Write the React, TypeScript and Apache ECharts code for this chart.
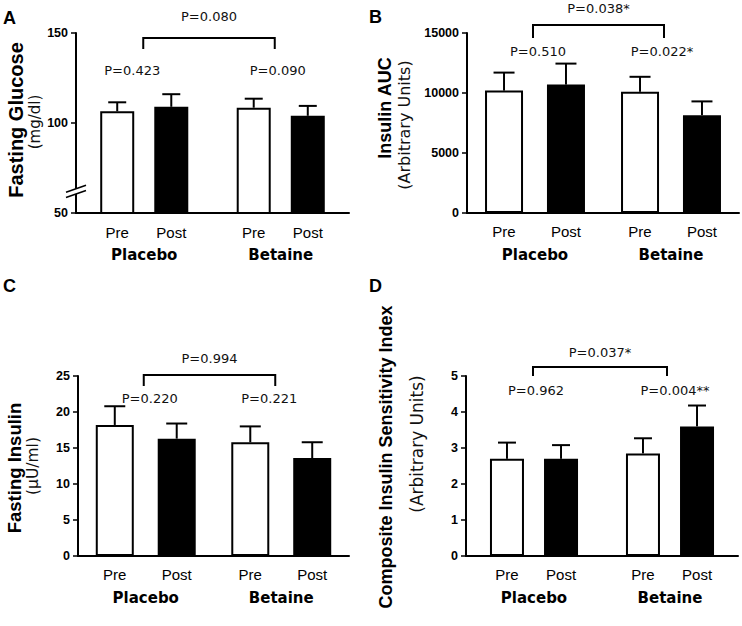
import React, { useEffect, useRef } from 'react';
import * as echarts from 'echarts';

// ---------- data ----------
const groups = ['Placebo', 'Betaine'];
const phases = ['Pre', 'Post'];

// A: Fasting glucose (mg/dl)
const glucosePre = [106.5, 108.5];
const glucosePreErr = [111.5, 113.5];
const glucosePost = [109, 104];
const glucosePostErr = [116, 109.5];
const glucoseGroupP = ['P=0.423', 'P=0.090'];
const glucoseBetweenP = 'P=0.080';
const glucoseTicks = [50, 100, 150];

// B: Insulin AUC (arbitrary units)
const aucPre = [10200, 10100];
const aucPreErr = [11700, 11350];
const aucPost = [10700, 8150];
const aucPostErr = [12450, 9300];
const aucGroupP = ['P=0.510', 'P=0.022*'];
const aucBetweenP = 'P=0.038*';
const aucTicks = [0, 5000, 10000, 15000];

// C: Fasting insulin (µU/ml)
const insulinPre = [18.2, 15.8];
const insulinPreErr = [20.8, 18.0];
const insulinPost = [16.3, 13.6];
const insulinPostErr = [18.4, 15.8];
const insulinGroupP = ['P=0.220', 'P=0.221'];
const insulinBetweenP = 'P=0.994';
const insulinTicks = [0, 5, 10, 15, 20, 25];

// D: Composite insulin sensitivity index
const csiPre = [2.7, 2.85];
const csiPreErr = [3.15, 3.27];
const csiPost = [2.7, 3.6];
const csiPostErr = [3.08, 4.18];
const csiGroupP = ['P=0.962', 'P=0.004**'];
const csiBetweenP = 'P=0.037*';
const csiTicks = [0, 1, 2, 3, 4, 5];

const panelLetters = ['A', 'B', 'C', 'D'];
const yTitles = ['Fasting Glucose', 'Insulin AUC', 'Fasting Insulin', 'Composite Insulin Sensitivity Index'];
const yUnits = ['(mg/dl)', '(Arbitrary Units)', '(\u00B5U/ml)', '(Arbitrary Units)'];

// ---------- layout ----------
const panels = [
  {
    grid: { left: 76, top: 33, width: 273, height: 180 },
    ticks: glucoseTicks, pre: glucosePre, preErr: glucosePreErr, post: glucosePost, postErr: glucosePostErr,
    groupP: glucoseGroupP, between: glucoseBetweenP,
    barWidth: 34, gap: 0.59, cap: 18,
    topPY: 159.4, bracketY: 147.2, legY: 141.1, groupPY: 128.9, breakY: 62,
    groupPDx: [-12, -3], bracketDx: [-1, -6],
    letter: { x: 3, y: 9 },
    title: { x: 16, y: 120, size: 20 }, unit: { x: 35, y: 122, size: 15 },
  },
  {
    grid: { left: 467, top: 33, width: 272, height: 180 },
    ticks: aucTicks, pre: aucPre, preErr: aucPreErr, post: aucPost, postErr: aucPostErr,
    groupP: aucGroupP, between: aucBetweenP,
    barWidth: 38, gap: 0.63, cap: 21,
    topPY: 17083, bracketY: 15667, legY: 14583, groupPY: 13417, breakY: null,
    groupPDx: [3, -9], bracketDx: [-2, -7],
    letter: { x: 369, y: 8 },
    title: { x: 385, y: 108, size: 18 }, unit: { x: 404, y: 125, size: 16 },
  },
  {
    grid: { left: 78, top: 376, width: 271, height: 180 },
    ticks: insulinTicks, pre: insulinPre, preErr: insulinPreErr, post: insulinPost, postErr: insulinPostErr,
    groupP: insulinGroupP, between: insulinBetweenP,
    barWidth: 38, gap: 0.63, cap: 21,
    topPY: 27.5, bracketY: 25.14, legY: 23.6, groupPY: 21.9, breakY: null,
    groupPDx: [4, -12], bracketDx: [-2, -6],
    letter: { x: 3, y: 277 },
    title: { x: 14, y: 468, size: 18.5 }, unit: { x: 33, y: 466, size: 15.5 },
  },
  {
    grid: { left: 466, top: 376, width: 272, height: 180 },
    ticks: csiTicks, pre: csiPre, preErr: csiPreErr, post: csiPost, postErr: csiPostErr,
    groupP: csiGroupP, between: csiBetweenP,
    barWidth: 34, gap: 0.59, cap: 18,
    topPY: 5.64, bracketY: 5.25, legY: 5.0, groupPY: 4.61, breakY: null,
    groupPDx: [2, 5], bracketDx: [-1, -3],
    letter: { x: 369, y: 277 },
    title: { x: 386, y: 457, size: 18 }, unit: { x: 417, y: 444, size: 17 },
  },
];

const BLACK = '#000';
const pTextStyle = { fontFamily: 'DejaVu Sans', fontSize: 13, fill: '#111', align: 'center', verticalAlign: 'middle' };

function buildOption() {
  const grid: any[] = [];
  const xAxis: any[] = [];
  const yAxis: any[] = [];
  const series: any[] = [];
  const graphic: any[] = [];

  panels.forEach((p, i) => {
    grid.push({ ...p.grid, containLabel: false });
    xAxis.push({
      type: 'category', gridIndex: i, data: groups,
      axisLine: { lineStyle: { color: BLACK, width: 2 } },
      axisTick: { show: false },
      axisLabel: { color: BLACK, fontFamily: 'DejaVu Sans', fontWeight: 'bold', fontSize: 15, margin: 33, lineHeight: 18 },
      splitLine: { show: false },
    });
    const tk = p.ticks;
    yAxis.push({
      type: 'value', gridIndex: i, min: tk[0], max: tk[tk.length - 1], interval: tk[1] - tk[0],
      axisLine: { show: true, lineStyle: { color: BLACK, width: 2 } },
      axisTick: { show: true, length: 5, lineStyle: { color: BLACK, width: 1.5 } },
      axisLabel: {
        color: BLACK, fontFamily: 'Liberation Sans', fontWeight: 'bold', fontSize: 12.5, margin: 8,
        formatter: (v: number) => String(v),
      },
      splitLine: { show: false },
    });

    const labelCfg = {
      show: true, position: 'insideBottom', distance: 0, verticalAlign: 'middle', offset: [0, 18],
      formatter: '{a}', color: BLACK, fontFamily: 'Liberation Sans', fontSize: 15, textBorderWidth: 0,
    };
    series.push({
      type: 'bar', name: phases[0], xAxisIndex: i, yAxisIndex: i, data: p.pre,
      barWidth: p.barWidth, barGap: Math.round(p.gap * 100) + '%',
      itemStyle: { color: '#fff', borderColor: BLACK, borderWidth: 2 },
      label: labelCfg, silent: true,
    });
    series.push({
      type: 'bar', name: phases[1], xAxisIndex: i, yAxisIndex: i, data: p.post,
      barWidth: p.barWidth, barGap: Math.round(p.gap * 100) + '%',
      itemStyle: { color: BLACK, borderColor: BLACK, borderWidth: 2 },
      label: labelCfg, silent: true,
    });

    const errData: number[][] = [];
    p.pre.forEach((v, k) => errData.push([k, v, p.preErr[k], 0]));
    p.post.forEach((v, k) => errData.push([k, v, p.postErr[k], 1]));
    const half = (p.barWidth * (1 + p.gap)) / 2;
    series.push({
      type: 'custom', xAxisIndex: i, yAxisIndex: i, data: errData, z: 5, silent: true,
      encode: { x: 0, y: [1, 2] },
      renderItem: (params: any, api: any) => {
        const cat = api.value(0);
        const base = api.coord([cat, api.value(1)]);
        const top = api.coord([cat, api.value(2)]);
        const x = base[0] + (api.value(3) === 0 ? -half : half);
        return {
          type: 'group',
          children: [
            { type: 'line', shape: { x1: x, y1: base[1], x2: x, y2: top[1] }, style: { stroke: BLACK, lineWidth: 2 } },
            { type: 'line', shape: { x1: x - p.cap / 2, y1: top[1], x2: x + p.cap / 2, y2: top[1] }, style: { stroke: BLACK, lineWidth: 2 } },
          ],
        };
      },
    });

    series.push({
      type: 'custom', xAxisIndex: i, yAxisIndex: i, data: [[0, p.bracketY]], z: 6, silent: true, clip: false,
      renderItem: (params: any, api: any) => {
        const l = api.coord([0, p.legY]);
        const lt = api.coord([0, p.bracketY]);
        const r = api.coord([1, p.legY]);
        const rt = api.coord([1, p.bracketY]);
        const t0 = api.coord([0, p.topPY]);
        const t1 = api.coord([1, p.topPY]);
        const g0 = api.coord([0, p.groupPY]);
        const g1 = api.coord([1, p.groupPY]);
        const lx = l[0] + p.bracketDx[0];
        const rx = r[0] + p.bracketDx[1];
        const children: any[] = [
          { type: 'polyline', shape: { points: [[lx, l[1]], [lx, lt[1]], [rx, rt[1]], [rx, r[1]]] }, style: { stroke: BLACK, lineWidth: 2, fill: 'none' } },
          { type: 'text', x: (t0[0] + t1[0]) / 2 + (p.bracketDx[0] + p.bracketDx[1]) / 2, y: t0[1], style: { text: p.between, ...pTextStyle } },
          { type: 'text', x: g0[0] + p.groupPDx[0], y: g0[1], style: { text: p.groupP[0], ...pTextStyle } },
          { type: 'text', x: g1[0] + p.groupPDx[1], y: g1[1], style: { text: p.groupP[1], ...pTextStyle } },
        ];
        if (p.breakY != null) {
          const ax = params.coordSys.x;
          const by = api.coord([0, p.breakY])[1];
          const dx = 10, dy = 3.5, sep = 2.6;
          children.push({
            type: 'polygon',
            shape: { points: [[ax - dx, by + dy - sep], [ax + dx, by - dy - sep], [ax + dx, by - dy + sep], [ax - dx, by + dy + sep]] },
            style: { fill: '#fff', stroke: 'none' },
          });
          children.push({ type: 'line', shape: { x1: ax - dx, y1: by + dy - sep, x2: ax + dx, y2: by - dy - sep }, style: { stroke: BLACK, lineWidth: 1.5 } });
          children.push({ type: 'line', shape: { x1: ax - dx, y1: by + dy + sep, x2: ax + dx, y2: by - dy + sep }, style: { stroke: BLACK, lineWidth: 1.5 } });
        }
        return { type: 'group', children };
      },
    });

    graphic.push({
      type: 'text', left: p.letter.x, top: p.letter.y,
      style: { text: panelLetters[i], fontFamily: 'Liberation Sans', fontWeight: 'bold', fontSize: 18, fill: BLACK },
    });
    graphic.push({
      type: 'text', x: p.title.x, y: p.title.y, rotation: Math.PI / 2,
      style: { text: yTitles[i], fontFamily: 'Liberation Sans', fontWeight: 'bold', fontSize: p.title.size, fill: BLACK, align: 'center', verticalAlign: 'middle' },
    });
    graphic.push({
      type: 'text', x: p.unit.x, y: p.unit.y, rotation: Math.PI / 2,
      style: { text: yUnits[i], fontFamily: 'DejaVu Sans', fontSize: p.unit.size, fill: '#111', align: 'center', verticalAlign: 'middle' },
    });
  });

  return {
    animation: false,
    backgroundColor: '#fff',
    textStyle: { fontFamily: 'Liberation Sans' },
    grid, xAxis, yAxis, series, graphic,
  };
}

export default function App() {
  const ref = useRef<HTMLDivElement>(null);
  useEffect(() => {
    document.body.style.margin = '0';
    if (!ref.current) return;
    const chart = echarts.init(ref.current, null, { renderer: 'svg' });
    chart.setOption(buildOption() as any);
    return () => chart.dispose();
  }, []);
  return <div ref={ref} style={{ width: 742, height: 626 }} />;
}
